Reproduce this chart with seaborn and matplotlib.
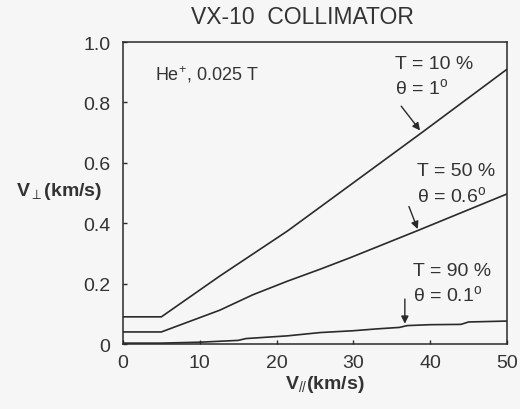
import numpy as np
import pandas as pd
import matplotlib
matplotlib.use("Agg")
import matplotlib.pyplot as plt
import seaborn as sns

# 곡선 데이터
v_par_1 = [0, 5, 12.6, 21.4, 25.7, 38.9, 50]
v_perp_1 = [0.09, 0.09, 0.225, 0.374, 0.454, 0.70, 0.91]

v_par_2 = [0, 5, 12.6, 16.9, 21.4, 25.7, 29.6, 38.4, 50]
v_perp_2 = [0.04, 0.04, 0.112, 0.163, 0.208, 0.248, 0.286, 0.376, 0.497]

v_par_3 = [0, 5, 10, 15, 16, 21.4, 25.7, 30, 33, 36, 37, 40, 44, 45, 50]
v_perp_3 = [0.003, 0.003, 0.006, 0.012, 0.018, 0.027, 0.038, 0.044, 0.05, 0.055,
            0.061, 0.064, 0.065, 0.073, 0.076]

series_names = ["T = 10 %", "T = 50 %", "T = 90 %"]
x_ticks = [0, 10, 20, 30, 40, 50]
y_ticks = [0, 0.2, 0.4, 0.6, 0.8, 1.0]
y_tick_labels = ["0", "0.2", "0.4", "0.6", "0.8", "1.0"]

df = pd.concat([
    pd.DataFrame({"vpar": v_par_1, "vperp": v_perp_1, "case": series_names[0]}),
    pd.DataFrame({"vpar": v_par_2, "vperp": v_perp_2, "case": series_names[1]}),
    pd.DataFrame({"vpar": v_par_3, "vperp": v_perp_3, "case": series_names[2]}),
])

sns.set_style("ticks")
plt.rcParams['font.family'] = ['Liberation Sans', 'DejaVu Sans']
plt.rcParams['mathtext.fontset'] = 'custom'
plt.rcParams['mathtext.rm'] = 'Liberation Sans'
plt.rcParams['mathtext.bf'] = 'Liberation Sans:bold'
plt.rcParams['mathtext.it'] = 'Liberation Sans:italic'
plt.rcParams['mathtext.fallback'] = 'stixsans'

bg = '#f6f6f6'
ink = '#2a2a2a'
txt = '#333333'

fig = plt.figure(figsize=(5.2, 4.1), dpi=100, facecolor=bg)
ax = fig.add_axes([0.2365, 0.1585, 0.7385, 0.7365])
ax.set_facecolor(bg)

sns.lineplot(data=df, x="vpar", y="vperp", units="case", estimator=None,
             color=ink, linewidth=1.2, sort=False, ax=ax, legend=False)

ax.set_xlim(0, 50)
ax.set_ylim(0, 1.0)
ax.set_xticks(x_ticks)
ax.set_yticks(y_ticks)
ax.set_yticklabels(y_tick_labels)
ax.tick_params(direction='in', length=3, width=1, colors=ink, labelsize=14,
               labelcolor=txt)
ax.tick_params(axis='y', pad=9)
ax.tick_params(axis='x', pad=7)
for s in ax.spines.values():
    s.set_color(ink)
    s.set_linewidth(1.1)
ax.set_xlabel("")
ax.set_ylabel("")

fig.text(302 / 520, 1 - 18 / 410, "VX-10  COLLIMATOR", ha='center', va='center',
         fontsize=16.5, color=txt)

# 축 라벨
ax.text(-0.279, 0.507, r"$\mathbf{V}_{\perp}$(km/s)", transform=ax.transAxes,
        ha='left', va='center', fontsize=14, fontweight='bold', color=txt)
ax.text(0.526, -0.13, r"$\mathbf{V}_{\mathit{//}}$(km/s)", transform=ax.transAxes,
        ha='center', va='center', fontsize=14, fontweight='bold', color=txt)

ax.text(0.083, 0.894, r"He$^{+}$, 0.025 T", transform=ax.transAxes,
        ha='left', va='center', fontsize=13, color=txt)

# 곡선 라벨과 화살표
arrow = dict(arrowstyle='-|>', color=ink, lw=1.0, mutation_scale=11)
labels = [
    (series_names[0], "θ = 1$^{\\mathrm{o}}$", (35.4, 0.93), (36.0, 0.795), (38.9, 0.70)),
    (series_names[1], "θ = 0.6$^{\\mathrm{o}}$", (38.3, 0.573), (37.1, 0.464), (38.5, 0.372)),
    (series_names[2], "θ = 0.1$^{\\mathrm{o}}$", (37.8, 0.245), (36.7, 0.158), (36.7, 0.058)),
]
for t_lab, th_lab, pos, tail, head in labels:
    ax.text(pos[0], pos[1], t_lab, ha='left', va='center', fontsize=14, color=txt)
    ax.text(pos[0], pos[1] - 0.078, th_lab, ha='left', va='center', fontsize=14, color=txt)
    ax.annotate("", xy=head, xytext=tail, arrowprops=arrow)

fig.savefig("out.png", dpi=100, facecolor=bg)
